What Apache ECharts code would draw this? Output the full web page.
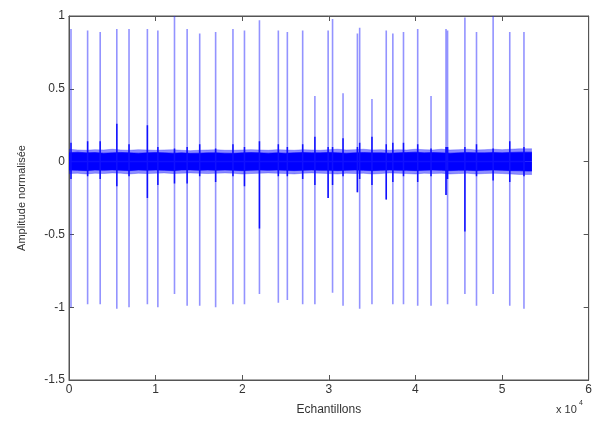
<!DOCTYPE html>
<html>
<head>
<meta charset="utf-8">
<script src="https://cdn.jsdelivr.net/npm/echarts@6/dist/echarts.min.js"></script>
<style>html,body{margin:0;padding:0;background:#fff}#c{width:595px;height:426px}</style>
</head>
<body>
<div id="c"></div>
<script>
// Spike positions (samples) and amplitudes
var spikeX = [230,2150,3600,5520,6930,9050,10260,12180,13640,15090,16930,18930,20260,21990,24170,25210,26980,28390,29920,30430,31640,33300,33560,34980,36630,37390,38620,40260,41800,43530,43710,45710,47050,48970,50890,52530];
var spikePeak = [0.91,0.90,0.89,0.91,0.91,0.91,0.90,1.00,0.91,0.88,0.89,0.91,0.90,0.97,0.90,0.89,0.90,0.45,0.90,0.98,0.47,0.88,0.92,0.43,0.90,0.88,0.89,0.91,0.45,0.91,0.90,0.99,0.89,1.00,0.89,0.89];
var spikeTrough = [-1.00,-0.98,-0.98,-1.01,-1.00,-0.98,-1.00,-0.91,-0.99,-0.99,-1.00,-0.98,-0.98,-0.91,-0.97,-0.95,-0.98,-0.98,-0.25,-0.90,-0.99,-0.21,-1.01,-0.98,-0.26,-0.98,-0.98,-0.99,-0.99,-0.23,-0.98,-0.91,-0.99,-0.91,-0.99,-1.01];
var minorUp = [0.13,0.14,0.14,0.26,0.12,0.25,0.10,0.09,0.10,0.12,0.09,0.12,0.10,0.14,0.12,0.10,0.12,0.17,0.10,0.10,0.16,0.10,0.13,0.17,0.12,0.13,0.13,0.12,0.09,0.10,0.10,0.10,0.12,0.09,0.14,0.10];
var minorDown = [-0.12,-0.10,-0.12,-0.17,-0.10,-0.25,-0.16,-0.15,-0.15,-0.10,-0.14,-0.10,-0.17,-0.46,-0.10,-0.10,-0.12,-0.16,-0.25,-0.16,-0.10,-0.21,-0.12,-0.16,-0.26,-0.14,-0.10,-0.14,-0.10,-0.23,-0.12,-0.48,-0.10,-0.13,-0.14,-0.10];

// Noise band envelope (samples, amplitude)
var bandX = [0,1000,2000,3000,4000,5000,6000,7000,8000,9000,10000,11000,12000,13000,14000,15000,16000,17000,18000,19000,20000,21000,22000,23000,24000,25000,26000,27000,28000,29000,30000,31000,32000,33000,34000,35000,36000,37000,38000,39000,40000,41000,42000,43000,44000,45000,46000,47000,48000,49000,50000,51000,52000,53000,53450];
var bandUpper = [0.060,0.065,0.060,0.062,0.058,0.060,0.063,0.060,0.058,0.060,0.062,0.060,0.058,0.060,0.057,0.058,0.060,0.060,0.058,0.057,0.060,0.062,0.060,0.058,0.060,0.058,0.060,0.062,0.060,0.060,0.063,0.060,0.058,0.060,0.062,0.060,0.060,0.058,0.060,0.062,0.065,0.060,0.062,0.060,0.058,0.060,0.062,0.060,0.060,0.062,0.060,0.063,0.065,0.065,0.065];
var bandLower = [-0.058,-0.060,-0.062,-0.058,-0.060,-0.057,-0.060,-0.062,-0.058,-0.060,-0.058,-0.060,-0.062,-0.058,-0.057,-0.060,-0.058,-0.060,-0.058,-0.060,-0.062,-0.060,-0.058,-0.060,-0.058,-0.060,-0.062,-0.060,-0.058,-0.060,-0.060,-0.062,-0.060,-0.058,-0.060,-0.062,-0.060,-0.058,-0.060,-0.060,-0.062,-0.060,-0.058,-0.060,-0.062,-0.060,-0.060,-0.062,-0.060,-0.058,-0.060,-0.062,-0.063,-0.065,-0.065];
var fringeUpper = [0.085,0.080,0.078,0.082,0.080,0.085,0.080,0.078,0.082,0.080,0.078,0.080,0.082,0.078,0.075,0.078,0.080,0.082,0.078,0.078,0.080,0.082,0.080,0.078,0.082,0.080,0.078,0.082,0.080,0.078,0.082,0.085,0.080,0.082,0.085,0.080,0.082,0.078,0.082,0.080,0.085,0.082,0.080,0.085,0.080,0.082,0.085,0.080,0.082,0.085,0.082,0.085,0.088,0.088,0.088];
var fringeLower = [-0.082,-0.080,-0.085,-0.080,-0.082,-0.078,-0.080,-0.085,-0.080,-0.082,-0.080,-0.078,-0.082,-0.080,-0.078,-0.080,-0.082,-0.080,-0.078,-0.080,-0.085,-0.082,-0.080,-0.078,-0.080,-0.082,-0.085,-0.080,-0.078,-0.080,-0.082,-0.085,-0.080,-0.082,-0.080,-0.085,-0.082,-0.078,-0.080,-0.082,-0.085,-0.080,-0.082,-0.080,-0.085,-0.082,-0.080,-0.085,-0.082,-0.080,-0.082,-0.085,-0.088,-0.088,-0.088];

var xTicks = ['0','1','2','3','4','5','6'];

function spikeData(ups, downs) {
  var d = [];
  for (var i = 0; i < spikeX.length; i++) {
    d.push([spikeX[i], 0], [spikeX[i], ups[i]], [spikeX[i], downs[i]], [spikeX[i], 0]);
  }
  return d;
}
function zipBand(ys) { return bandX.map(function (x, i) { return [x, ys[i]]; }); }

var chart = echarts.init(document.getElementById('c'), null, {renderer: 'canvas'});
var font = 'Liberation Sans, Arial, sans-serif';
var axisCol = '#555';
function areaSeries(ys, color) {
  return {type: 'line', data: zipBand(ys), symbol: 'none', silent: true,
    lineStyle: {width: 0.6, color: color}, areaStyle: {color: color, origin: 'auto', opacity: 1}, z: 3};
}
chart.setOption({
  animation: false,
  backgroundColor: '#fff',
  grid: {left: 69, right: 4, top: 16, bottom: 46, show: true, borderColor: axisCol, borderWidth: 1},
  xAxis: [{
    type: 'value', min: 0, max: 60000, interval: 10000,
    axisLine: {show: true, onZero: false, lineStyle: {color: axisCol}},
    axisTick: {show: true, inside: true, length: 5, lineStyle: {color: axisCol}},
    splitLine: {show: false},
    axisLabel: {color: '#333', fontFamily: font, fontSize: 12, margin: 4,
      formatter: function (v) { return xTicks[Math.round(v / 10000)]; }},
    name: 'Echantillons', nameLocation: 'middle', nameGap: 24,
    nameTextStyle: {color: '#333', fontFamily: font, fontSize: 12}
  }, {
    type: 'value', min: 0, max: 60000, interval: 10000, position: 'top',
    axisLine: {show: true, onZero: false, lineStyle: {color: axisCol}},
    axisTick: {show: true, inside: true, length: 5, lineStyle: {color: axisCol}},
    axisLabel: {show: false}, splitLine: {show: false}
  }],
  yAxis: [{
    type: 'value', min: -1.5, max: 1, interval: 0.5,
    axisLine: {show: true, onZero: false, lineStyle: {color: axisCol}},
    axisTick: {show: true, inside: true, length: 5, lineStyle: {color: axisCol}},
    splitLine: {show: false},
    axisLabel: {color: '#333', fontFamily: font, fontSize: 12, margin: 4},
    name: 'Amplitude normalisée', nameLocation: 'middle', nameGap: 42, nameRotate: 90,
    nameTextStyle: {color: '#333', fontFamily: font, fontSize: 11}
  }, {
    type: 'value', min: -1.5, max: 1, interval: 0.5, position: 'right',
    axisLine: {show: true, onZero: false, lineStyle: {color: axisCol}},
    axisTick: {show: true, inside: true, length: 5, lineStyle: {color: axisCol}},
    axisLabel: {show: false}, splitLine: {show: false}
  }],
  graphic: [{
    type: 'text', left: 556, top: 404,
    style: {text: 'x 10', fill: '#333', font: '11px Liberation Sans, Arial, sans-serif'}
  }, {
    type: 'text', left: 579, top: 400,
    style: {text: '4', fill: '#333', font: '7px Liberation Sans, Arial, sans-serif'}
  }],
  series: [
    {type: 'line', data: spikeData(spikePeak, spikeTrough), symbol: 'none', silent: true,
      lineStyle: {width: 1.6, color: 'rgba(40,40,255,0.5)'}, z: 2},
    areaSeries(fringeUpper, 'rgba(0,0,255,0.45)'),
    areaSeries(fringeLower, 'rgba(0,0,255,0.45)'),
    areaSeries(bandUpper, '#0000ff'),
    areaSeries(bandLower, '#0000ff'),
    {type: 'line', data: spikeData(minorUp, minorDown), symbol: 'none', silent: true,
      lineStyle: {width: 1.5, color: '#1010ff'}, z: 4}
  ]
});
</script>
</body>
</html>
